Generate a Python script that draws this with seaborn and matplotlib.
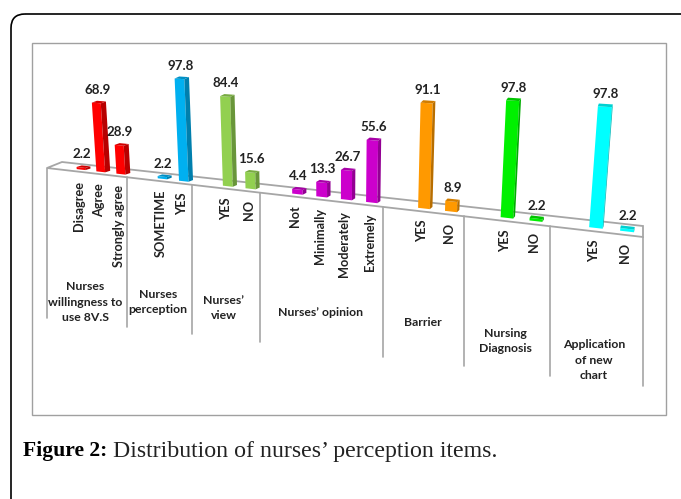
import numpy as np
import pandas as pd
import seaborn as sb
from matplotlib import pyplot as plt
from matplotlib.colors import to_rgb
from matplotlib.patches import Polygon, FancyBboxPatch
from matplotlib.transforms import Transform, Affine2D

# data, slots left empty between groups like blank rows in the sheet
categories = ["Disagree", "Agree", "Strongly agree", "SOMETIME", "YES", "YES", "NO",
              "Not", "Minimally", "Moderately", "Extremely", "YES", "NO", "YES", "NO", "YES", "NO"]
values = [2.2, 68.9, 28.9, 2.2, 97.8, 84.4, 15.6, 4.4, 13.3, 26.7, 55.6, 91.1, 8.9, 97.8, 2.2, 97.8, 2.2]
slots = [0, 1, 2, 4, 5, 7, 8, 10, 11, 12, 13, 15, 16, 18, 19, 21, 22]
groups = ["will", "will", "will", "perc", "perc", "view", "view", "opin", "opin", "opin", "opin",
          "barr", "barr", "diag", "diag", "appl", "appl"]
group_colours = {"will": "#FF0000", "perc": "#00B0F0", "view": "#92D050", "opin": "#CC00CC",
                 "barr": "#FF9900", "diag": "#00F000", "appl": "#00FFFF"}
group_labels = ["Nurses\nwillingness to\nuse 8V.S", "Nurses\nperception", "Nurses’\nview", "Nurses’ opinion",
                "Barrier", "Nursing\nDiagnosis", "Application\nof new\nchart"]
group_label_x = [85, 158, 224, 320, 423, 505, 594]
group_label_y = [302, 302, 308, 313, 322, 341, 360]
sep_x = [47, 127, 192, 260, 383, 464, 550, 643]
sep_bottom = [318, 327, 334, 342, 357, 366, 376, 386]

W, H = 681, 499
GREY = "#A6A6A6"

sb.set_style("white")
plt.rcParams["font.family"] = ["Lato", "DejaVu Sans"]


class Keystone(Transform):
    """perspective map from (slot, percent) to display pixels"""
    input_dims = 2
    output_dims = 2

    def __init__(self, src, dst):
        super().__init__()
        A = []
        b = []
        for (x, y), (u, v) in zip(src, dst):
            A.append([x, y, 1, 0, 0, 0, -u * x, -u * y])
            A.append([0, 0, 0, x, y, 1, -v * x, -v * y])
            b += [u, v]
        self.m = np.append(np.linalg.solve(np.array(A, float), np.array(b, float)), 1).reshape(3, 3)

    def transform_non_affine(self, xy):
        xy = np.asarray(xy, float)
        p = np.column_stack([xy, np.ones(len(xy))]) @ self.m.T
        return p[:, :2] / p[:, 2:]


# image pixels (y down) to display
pix = Affine2D().scale(1, -1).translate(0, H)
corners = [(0, 0), (22, 0), (0, 100), (22, 100)]
targets = [(81, H - 169.6), (627, H - 231.5), (74, H - 69.7), (637.4, H - 106)]
bars_tf = Keystone(corners, targets)

fig = plt.figure(figsize=(W / 100, H / 100), dpi=100)
ax = fig.add_axes([0, 0, 1, 1])

df = pd.DataFrame({"slot": slots, "value": values, "group": groups})
sb.barplot(data=df, x="slot", y="value", hue="group", palette=group_colours, native_scale=True,
           dodge=False, width=0.44, saturation=1, linewidth=0, legend=False, ax=ax)

# push the flat bars through the perspective and give them side and top faces
for bar in list(ax.patches):
    x0, w, h = bar.get_x(), bar.get_width(), bar.get_height()
    x1 = x0 + w
    col = np.array(to_rgb(bar.get_facecolor()[:3]))
    dx = 0.27 * (1 - (x0 + w / 2) / 23)
    dy = 2.2
    bar.set_transform(bars_tf)
    bar.set_zorder(3)
    ax.add_patch(Polygon([(x1, 0), (x1, h), (x1 + dx, h + dy), (x1 + dx, dy)], closed=True, fc=col * 0.72,
                         lw=0, transform=bars_tf, zorder=3))
    ax.add_patch(Polygon([(x0, h), (x1, h), (x1 + dx, h + dy), (x0 + dx, h + dy)], closed=True, fc=col * 0.82,
                         lw=0, transform=bars_tf, zorder=3))

# value labels and rotated category labels
for s, v, c in zip(slots, values, categories):
    ax.annotate(f"{v}", xy=(s, v), xycoords=bars_tf, xytext=(1, 13), textcoords="offset pixels",
                ha="center", va="center", fontsize=9.6, fontweight="bold", color="#222222", zorder=5)
    ax.annotate(c, xy=(s, 0), xycoords=bars_tf, xytext=(-2, -11), textcoords="offset pixels",
                ha="center", va="top", rotation=90, fontsize=9.2, fontweight="bold", color="#222222", zorder=5)

# chart frame, floor strip, separators
ax.add_patch(plt.Rectangle((32, 43), 634, 372, fc="white", ec="#A0A0A0", lw=1, transform=pix, zorder=1))
ax.add_patch(Polygon([(62, 162), (643, 226), (643, 237), (47, 168)], closed=True, fc="white", ec=GREY, lw=1.3,
                     transform=pix, zorder=2))
for x, b in zip(sep_x, sep_bottom):
    ax.plot([x, x], [168 + (x - 47) * 69 / 596, b], color=GREY, lw=1.2, transform=pix, zorder=2)

for t, x, y in zip(group_labels, group_label_x, group_label_y):
    ax.text(x, y, t, transform=pix, ha="center", va="center", fontsize=8.8, fontweight="bold",
            color="#222222", linespacing=1.55, zorder=5)

# page border and caption
ax.add_patch(FancyBboxPatch((11, 14), 690, 500, boxstyle="round,pad=0,rounding_size=14", fc="none", ec="black",
                            lw=1.2, transform=pix, zorder=0))
ax.text(23, 451, "Figure 2:", transform=pix, family="Liberation Serif", fontweight="bold", fontsize=15.6,
        va="center", ha="left", color="black")
ax.text(113, 451, "Distribution of nurses’ perception items.", transform=pix, family="Liberation Serif",
        fontsize=17.2, va="center", ha="left", color="#222222")

ax.set_xlim(0, W)
ax.set_ylim(0, H)
ax.axis("off")
fig.savefig("out.png", dpi=100)
